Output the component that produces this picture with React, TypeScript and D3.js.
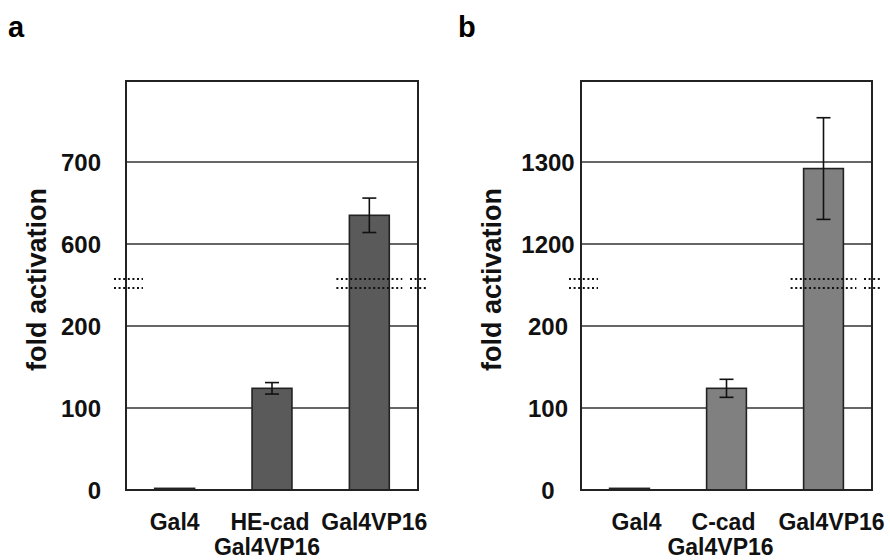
import React from "react";
import * as d3 from "d3";

const labelsA: string[][] = [["Gal4"], ["HE-cad", "Gal4VP16"], ["Gal4VP16"]];
const valuesA: number[] = [2, 124, 635];
const errorsA: number[] = [0, 7, 21];
const ticksA: number[] = [0, 100, 200, 600, 700];
const segmentsA: number[] = [0, 200, 600, 800];

const labelsB: string[][] = [["Gal4"], ["C-cad", "Gal4VP16"], ["Gal4VP16"]];
const valuesB: number[] = [2, 124, 1292];
const errorsB: number[] = [0, 11, 62];
const ticksB: number[] = [0, 100, 200, 1200, 1300];
const segmentsB: number[] = [0, 200, 1200, 1400];

const FONT = "'Liberation Sans', Arial, Helvetica, sans-serif";

type PanelProps = {
  letter: string;
  letterX: number;
  left: number;
  right: number;
  labels: string[][];
  values: number[];
  errors: number[];
  ticks: number[];
  segments: number[];
  fill: string;
  tickAnchor: "end" | "middle";
  tickOffset: number;
  labelShift: number[];
};

function Panel(p: PanelProps) {
  const top = 81;
  const bottom = 490;
  const step = 82;
  const y = d3
    .scaleLinear()
    .domain(p.segments)
    .range([bottom, bottom - 2 * step, bottom - 3 * step, bottom - 5 * step]);
  const names = p.labels.map((l) => l.join(" "));
  const x = d3
    .scaleBand<string>()
    .domain(names)
    .range([p.left, p.right])
    .paddingInner(0.59)
    .paddingOuter(0.295);
  const bw = x.bandwidth();
  const breakMid = (y(p.segments[1]) + y(p.segments[2])) / 2 - 1.5;
  const breakYs = [breakMid - 4.5, breakMid + 4.5];
  const lastX = x(names[names.length - 1])!;
  const breakSegs: [number, number][] = [
    [p.left - 12, p.left + 17],
    [lastX - 13, lastX + bw + 13],
    [p.right - 8, p.right + 10],
  ];
  return (
    <g>
      <text x={p.letterX} y={37} fontFamily={FONT} fontWeight="bold" fontSize={29}>
        {p.letter}
      </text>
      {p.ticks
        .filter((t) => t !== 0)
        .map((t) => (
          <line key={"g" + t} x1={p.left} x2={p.right} y1={y(t)} y2={y(t)} stroke="#333" strokeWidth={1.6} />
        ))}
      {p.values.map((v, i) => {
        const bx = x(names[i])!;
        const h = Math.max(y(0) - y(v), 0.5);
        return (
          <rect
            key={"b" + i}
            x={bx}
            y={y(v)}
            width={bw}
            height={h}
            fill={p.fill}
            stroke="#222"
            strokeWidth={1.6}
          />
        );
      })}
      {p.values.map((v, i) => {
        const e = p.errors[i];
        if (!e) return null;
        const cx = x(names[i])! + bw / 2;
        return (
          <g key={"e" + i} stroke="#111" strokeWidth={1.6}>
            <line x1={cx} x2={cx} y1={y(v + e)} y2={y(v - e)} />
            <line x1={cx - 7} x2={cx + 7} y1={y(v + e)} y2={y(v + e)} />
            <line x1={cx - 7} x2={cx + 7} y1={y(v - e)} y2={y(v - e)} />
          </g>
        );
      })}
      <rect x={p.left} y={top} width={p.right - p.left} height={bottom - top} fill="none" stroke="#222" strokeWidth={2} />
      {breakYs.map((by, k) =>
        breakSegs.map((s, j) => (
          <line
            key={"d" + k + "-" + j}
            x1={s[0]}
            x2={s[1]}
            y1={by}
            y2={by}
            stroke="#111"
            strokeWidth={2}
            strokeDasharray="2 2.6"
          />
        ))
      )}
      {p.ticks.map((t) => (
        <text
          key={"t" + t}
          x={p.left - p.tickOffset}
          y={y(t)}
          dy="0.36em"
          textAnchor={p.tickAnchor}
          fontFamily={FONT}
          fontWeight="bold"
          fontSize={24}
          fill="#111"
        >
          {t}
        </text>
      ))}
      <text
        transform={`translate(${p.left - 80},${(top + bottom) / 2 - 6}) rotate(-90)`}
        textAnchor="middle"
        fontFamily={FONT}
        fontWeight="bold"
        fontSize={27}
        fill="#111"
      >
        fold activation
      </text>
      {p.labels.map((lines, i) => {
        const cx = x(names[i])! + bw / 2 + p.labelShift[i];
        return lines.map((ln, k) => (
          <text
            key={"l" + i + "-" + k}
            x={k === 0 ? cx : cx - 3}
            y={530 + k * 25}
            textAnchor="middle"
            fontFamily={FONT}
            fontWeight="bold"
            fontSize={23}
            fill="#111"
          >
            {ln}
          </text>
        ));
      })}
    </g>
  );
}

export default function App() {
  return (
    <svg
      width={890}
      height={560}
      style={{ position: "absolute", left: 0, top: 0, background: "#fff" }}
    >
      <rect width={890} height={560} fill="#fff" />
      <Panel
        letter="a"
        letterX={8}
        left={126}
        right={418}
        labels={labelsA}
        values={valuesA}
        errors={errorsA}
        ticks={ticksA}
        segments={segmentsA}
        fill="#5a5a5a"
        tickAnchor="end"
        tickOffset={25}
        labelShift={[0, -2, 5]}
      />
      <Panel
        letter="b"
        letterX={458}
        left={581}
        right={872}
        labels={labelsB}
        values={valuesB}
        errors={errorsB}
        ticks={ticksB}
        segments={segmentsB}
        fill="#808080"
        tickAnchor="middle"
        tickOffset={33}
        labelShift={[7, -3, 8]}
      />
    </svg>
  );
}
